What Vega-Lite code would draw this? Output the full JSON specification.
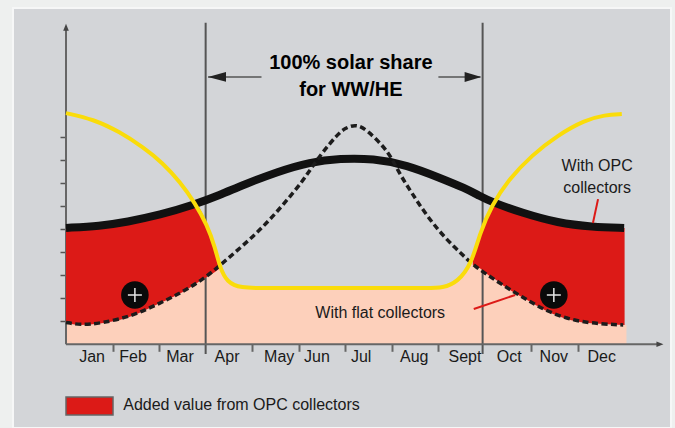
{
"$schema":"https://vega.github.io/schema/vega-lite/v6.json",
"width":658,"height":420,
"autosize":{"type":"none"},
"padding":{"left":13,"top":8,"right":4,"bottom":0},
"background":"#eef0ef",
"view":{"fill":"#d3d5d8","stroke":"#f6f7f7","strokeWidth":2},
"config":{"text":{"font":"Liberation Sans"}},
"datasets":{
"opc":[{"month":0,"value":5.05},{"month":0.73,"value":5.13},{"month":1.31,"value":5.31},{"month":2.02,"value":5.61},{"month":2.73,"value":6.04},{"month":3.31,"value":6.48},{"month":3.80,"value":6.91},{"month":4.53,"value":7.48},{"month":5.24,"value":7.91},{"month":5.89,"value":8.06},{"month":6.60,"value":8.06},{"month":7.33,"value":7.78},{"month":8.03,"value":7.22},{"month":8.57,"value":6.78},{"month":8.89,"value":6.43},{"month":9.15,"value":6.17},{"month":9.80,"value":5.70},{"month":10.57,"value":5.26},{"month":11.30,"value":5.09},{"month":11.99,"value":5.05}],
"flat":[{"month":0,"value":0.95},{"month":0.30,"value":0.84},{"month":0.73,"value":0.90},{"month":1.44,"value":1.23},{"month":2.02,"value":1.79},{"month":2.51,"value":2.27},{"month":2.99,"value":2.88},{"month":3.37,"value":3.53},{"month":3.74,"value":4.18},{"month":4.10,"value":4.83},{"month":4.43,"value":5.52},{"month":4.75,"value":6.26},{"month":5.07,"value":7.04},{"month":5.24,"value":7.56},{"month":5.50,"value":8.30},{"month":5.82,"value":9.08},{"month":5.99,"value":9.38},{"month":6.24,"value":9.56},{"month":6.48,"value":9.27},{"month":6.79,"value":8.64},{"month":6.96,"value":8.21},{"month":7.18,"value":7.35},{"month":7.43,"value":6.56},{"month":7.71,"value":5.70},{"month":8.03,"value":4.87},{"month":8.36,"value":4.18},{"month":8.57,"value":3.79},{"month":8.74,"value":3.44},{"month":9.28,"value":2.70},{"month":9.80,"value":2.05},{"month":10.35,"value":1.40},{"month":10.93,"value":1.01},{"month":11.51,"value":0.88},{"month":11.97,"value":0.84}],
"demand":[{"month":0,"value":10.03},{"month":0.58,"value":9.77},{"month":1.16,"value":9.21},{"month":1.65,"value":8.56},{"month":2.08,"value":7.87},{"month":2.45,"value":7.04},{"month":2.77,"value":6.13},{"month":3.03,"value":5.18},{"month":3.20,"value":4.22},{"month":3.31,"value":3.31},{"month":3.46,"value":2.70},{"month":3.74,"value":2.44},{"month":4.32,"value":2.44},{"month":5.0,"value":2.44},{"month":6.0,"value":2.44},{"month":7.0,"value":2.44},{"month":7.8,"value":2.44},{"month":8.08,"value":2.44},{"month":8.42,"value":2.70},{"month":8.72,"value":3.53},{"month":8.89,"value":4.83},{"month":9.15,"value":6.04},{"month":9.50,"value":7.13},{"month":10.01,"value":8.21},{"month":10.57,"value":9.08},{"month":11.15,"value":9.73},{"month":11.58,"value":9.95},{"month":11.94,"value":9.99}],
"pink":[{"month":0,"value":0.95},{"month":0.30,"value":0.84},{"month":0.73,"value":0.90},{"month":1.44,"value":1.23},{"month":2.02,"value":1.79},{"month":2.51,"value":2.27},{"month":2.99,"value":2.88},{"month":3.31,"value":3.31},{"month":3.46,"value":2.79},{"month":3.74,"value":2.46},{"month":4.32,"value":2.44},{"month":8.08,"value":2.44},{"month":8.42,"value":2.79},{"month":8.72,"value":3.5},{"month":9.28,"value":2.70},{"month":9.80,"value":2.05},{"month":10.35,"value":1.40},{"month":10.93,"value":1.01},{"month":11.51,"value":0.88},{"month":12.04,"value":0.84}],
"addedLeft":[{"month":0,"value":0.95,"value2":5.05},{"month":0.30,"value":0.84,"value2":5.08},{"month":0.73,"value":0.90,"value2":5.13},{"month":1.31,"value":1.15,"value2":5.31},{"month":2.02,"value":1.79,"value2":5.61},{"month":2.51,"value":2.27,"value2":5.90},{"month":2.77,"value":2.60,"value2":6.10},{"month":3.03,"value":2.93,"value2":5.18},{"month":3.20,"value":3.14,"value2":4.22},{"month":3.31,"value":3.31,"value2":3.31}],
"addedRight":[{"month":8.74,"value":3.44,"value2":3.6},{"month":8.89,"value":3.30,"value2":4.83},{"month":9.15,"value":2.90,"value2":6.04},{"month":9.17,"value":2.88,"value2":6.16},{"month":9.43,"value":2.5,"value2":5.97},{"month":9.97,"value":1.85,"value2":5.60},{"month":10.4,"value":1.37,"value2":5.36},{"month":10.98,"value":0.99,"value2":5.16},{"month":11.47,"value":0.89,"value2":5.08},{"month":12,"value":0.84,"value2":5.05}],
"months":[{"month":0.56,"value":-0.56,"label":"Jan"},{"month":1.44,"value":-0.56,"label":"Feb"},{"month":2.45,"value":-0.56,"label":"Mar"},{"month":3.46,"value":-0.56,"label":"Apr"},{"month":4.58,"value":-0.56,"label":"May"},{"month":5.39,"value":-0.56,"label":"Jun"},{"month":6.34,"value":-0.56,"label":"Jul"},{"month":7.48,"value":-0.56,"label":"Aug"},{"month":8.57,"value":-0.56,"label":"Sept"},{"month":9.52,"value":-0.56,"label":"Oct"},{"month":10.48,"value":-0.56,"label":"Nov"},{"month":11.51,"value":-0.56,"label":"Dec"},{"month":11.41,"value":7.73,"label":"With OPC"},{"month":11.41,"value":6.78,"label":"collectors"},{"month":6.75,"value":1.36,"label":"With flat collectors"},{"month":3.77,"value":-2.63,"label":"Added value from OPC collectors"}],
"title":[{"month":6.12,"value":12.2,"label":"100% solar share"},{"month":6.12,"value":11.03,"label":"for WW/HE"}],
"badges":[{"month":1.48,"value":2.14},{"month":10.48,"value":2.14}]
},
"encoding":{
"x":{"field":"month","type":"quantitative","title":null,"scale":{"domain":[-1.1386,12.997],"nice":false,"zero":false},"axis":{"values":[1,2,4,5,6,7,8,10,11],"labels":false,"domain":false,"grid":false,"title":null,"offset":-83.7,"tickSize":7,"tickWidth":2,"tickColor":"#666666"}},
"y":{"field":"value","type":"quantitative","title":null,"scale":{"domain":[-3.631,14.59],"nice":false,"zero":false},"axis":{"values":[1,2,3,4,5,6,7,8,9],"labels":false,"domain":false,"grid":false,"title":null,"offset":-53,"tickSize":6,"tickWidth":1.5,"tickColor":"#555555"}}
},
"layer":[
{"data":{"name":"pink"},"mark":{"type":"area","color":"#fdd0bb","interpolate":"monotone"},"encoding":{"y2":{"datum":0}}},
{"data":{"values":[{"month":3,"value":-0.42,"value2":13.95},{"month":8.95,"value":-0.42,"value2":13.95}]},"mark":{"type":"rule","color":"#555555","strokeWidth":2},"encoding":{"y2":{"field":"value2"}}},
{"data":{"values":[{"month":0,"value":0,"month2":12.76}]},"mark":{"type":"rule","color":"#666666","strokeWidth":2},"encoding":{"x2":{"field":"month2"}}},
{"data":{"values":[{"month":0,"value":0,"value2":13.8}]},"mark":{"type":"rule","color":"#666666","strokeWidth":2},"encoding":{"y2":{"field":"value2"}}},
{"data":{"values":[{"month":12.76,"value":0}]},"mark":{"type":"point","filled":true,"opacity":1,"color":"#444444","size":49,"shape":"M1,0L-1,-0.8L-1,0.8Z"}},
{"data":{"values":[{"month":0,"value":13.75}]},"mark":{"type":"point","filled":true,"opacity":1,"color":"#444444","size":49,"shape":"M0,-1L0.8,1L-0.8,1Z"}},
{"data":{"name":"addedLeft"},"mark":{"type":"area","color":"#dc1a17","interpolate":"monotone"},"encoding":{"y2":{"field":"value2"}}},
{"data":{"name":"addedRight"},"mark":{"type":"area","color":"#dc1a17","interpolate":"monotone"},"encoding":{"y2":{"field":"value2"}}},
{"data":{"values":[{"month":3.05,"value":11.6,"month2":4.2},{"month":8.0,"value":11.6,"month2":8.9}]},"mark":{"type":"rule","color":"#555555","strokeWidth":1.5},"encoding":{"x2":{"field":"month2"}}},
{"data":{"values":[{"month":3.244,"value":11.6}]},"mark":{"type":"point","filled":true,"opacity":1,"color":"#222222","size":324,"shape":"M-1,0L1,-0.55L1,0.55Z"}},
{"data":{"values":[{"month":8.743,"value":11.6}]},"mark":{"type":"point","filled":true,"opacity":1,"color":"#222222","size":280,"shape":"M1,0L-1,-0.6L-1,0.6Z"}},
{"data":{"name":"opc"},"mark":{"type":"line","color":"#111111","strokeWidth":8,"interpolate":"basis"}},
{"data":{"name":"flat"},"mark":{"type":"line","color":"#1c1c1c","strokeWidth":3.5,"strokeDash":[6,3.5],"interpolate":"basis"}},
{"data":{"name":"demand"},"mark":{"type":"line","color":"#fadc0a","strokeWidth":4,"interpolate":"basis"}},
{"data":{"values":[{"month":11.43,"value":6.30,"month2":11.32,"value2":5.26},{"month":8.76,"value":1.53,"month2":9.65,"value2":2.14}]},"mark":{"type":"rule","color":"#dc1a17","strokeWidth":2},"encoding":{"x2":{"field":"month2"},"y2":{"field":"value2"}}},
{"data":{"name":"badges"},"mark":{"type":"point","filled":true,"opacity":1,"color":"#0a0a0a","size":760,"shape":"circle"}},
{"data":{"name":"badges"},"mark":{"type":"point","filled":false,"opacity":1,"color":"#e6e6e6","strokeWidth":1.5,"size":196,"shape":"M-1,0L1,0M0,-1L0,1"}},
{"data":{"values":[{"month":0,"month2":1.01,"value":-2.286,"value2":-3.067}]},"mark":{"type":"rect","color":"#dc1a17","stroke":"#666666","strokeWidth":1.5},"encoding":{"x2":{"field":"month2"},"y2":{"field":"value2"}}},
{"data":{"name":"months"},"mark":{"type":"text","fontSize":16,"color":"#1a1a1a","align":"center","baseline":"middle"},"encoding":{"text":{"field":"label"}}},
{"data":{"name":"title"},"mark":{"type":"text","fontSize":20,"fontWeight":"bold","color":"#000000","align":"center","baseline":"middle"},"encoding":{"text":{"field":"label"}}}
]
}
